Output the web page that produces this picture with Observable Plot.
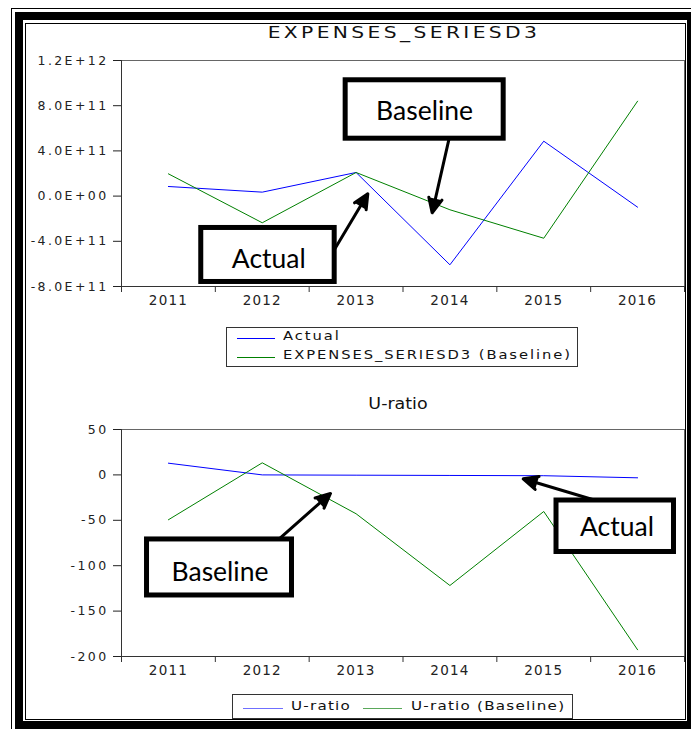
<!DOCTYPE html>
<html>
<head>
<meta charset="utf-8">
<script src="https://cdn.jsdelivr.net/npm/d3@7"></script>
<script src="https://cdn.jsdelivr.net/npm/@observablehq/plot@0.6"></script>
<style>
  html, body { margin: 0; padding: 0; background: #fff; }
  body { width: 691px; height: 729px; overflow: hidden; position: relative; font-family: "DejaVu Sans", sans-serif; color: #111; }
  .abs { position: absolute; box-sizing: border-box; }
  .title { white-space: nowrap; transform-origin: 50% 50%; }
  .legend-text { white-space: nowrap; transform-origin: 0 50%; }
  .legend-line { height: 1px; }
  svg [aria-label="y-axis tick label"] text { letter-spacing: 2.4px; }
  svg [aria-label="x-axis tick label"] text { letter-spacing: 1.2px; }
</style>
</head>
<body>
<script>
// ---------- data ----------
const years = [2011, 2012, 2013, 2014, 2015, 2016];
const yearLabels = ["2011", "2012", "2013", "2014", "2015", "2016"];
const yearBounds = [2010.5, 2011.5, 2012.5, 2013.5, 2014.5, 2015.5, 2016.5];

const expensesActual   = [0.85e11, 0.35e11, 2.09e11, -6.08e11, 4.86e11, -0.98e11];
const expensesBaseline = [1.97e11, -2.36e11, 2.09e11, -1.21e11, -3.73e11, 8.40e11];

const uratioActual   = [12.9, 0.0, -0.3, -0.6, -0.9, -3.2];
const uratioBaseline = [-49.4, 13.3, -42.8, -121.8, -40.3, -192.6];

const topYTicks = [-8e11, -4e11, 0, 4e11, 8e11, 1.2e12];
const topYTickLabels = ["-8.0E+11", "-4.0E+11", "0.0E+00", "4.0E+11", "8.0E+11", "1.2E+12"];
const bottomYTicks = [-200, -150, -100, -50, 0, 50];
const bottomYTickLabels = ["-200", "-150", "-100", "-50", "0", "50"];

const topTitle = "EXPENSES_SERIESD3";
const bottomTitle = "U-ratio";
const topLegend = ["Actual", "EXPENSES_SERIESD3 (Baseline)"];
const bottomLegend = ["U-ratio", "U-ratio (Baseline)"];

// annotation callouts (in data units)
const topBoxes = [
  {label: "Baseline", x1: 2012.889, x2: 2014.573, y1: 5.08e11, y2: 10.25e11, tx: 2013.73, ty: 7.48e11},
  {label: "Actual",   x1: 2011.35,  x2: 2012.772, y1: -7.6e11, y2: -2.82e11, tx: 2012.07, ty: -5.62e11}
];
const topArrows = [
  {x1: 2013.996, y1: 5.27e11, x2: 2013.811, y2: -1.48e11},
  {x1: 2012.76,  y1: -4.85e11, x2: 2013.125, y2: 0.2e11}
];
const bottomBoxes = [
  {label: "Baseline", x1: 2010.772, x2: 2012.317, y1: -132.8, y2: -71.1, tx: 2011.55, ty: -107.3},
  {label: "Actual",   x1: 2015.136, x2: 2016.388, y1: -84.9,  y2: -28.2, tx: 2015.78, ty: -57.7}
];
const bottomArrows = [
  {x1: 2012.163, y1: -72,   x2: 2012.727, y2: -20.5},
  {x1: 2015.52,  y1: -27.1, x2: 2014.781, y2: -4.3}
];

const BLUE = "#0000ff";
const GREEN = "#008000";

// ---------- helpers ----------
function el(tag, cls, style, text) {
  const e = document.createElement(tag);
  if (cls) e.className = cls;
  Object.assign(e.style, style);
  if (text != null) e.textContent = text;
  document.body.appendChild(e);
  return e;
}

function makeChart({actual, baseline, yDomain, yTicks, yTickLabels, boxes, arrows, top, height, marginTop, marginBottom}) {
  const chart = Plot.plot({
    width: 691,
    height,
    marginLeft: 121,
    marginRight: 7,
    marginTop,
    marginBottom,
    style: {fontFamily: "DejaVu Sans", fontSize: "13px", background: "transparent", overflow: "visible", color: "#111"},
    x: {domain: [yearBounds[0], yearBounds[yearBounds.length - 1]], label: null},
    y: {domain: yDomain, label: null},
    marks: [
      Plot.frame({stroke: "#666", strokeWidth: 1}),
      Plot.ruleX([yearBounds[0]], {stroke: "#333", strokeWidth: 1}),
      Plot.ruleY([yDomain[0]], {stroke: "#333", strokeWidth: 1}),
      Plot.axisY({ticks: yTicks, tickFormat: d => yTickLabels[yTicks.indexOf(d)], tickSize: 8, tickPadding: 5, fontSize: 12.5, color: "#222", label: null}),
      Plot.axisX({ticks: yearBounds, tickSize: 6, tickFormat: () => "", color: "#333", label: null}),
      Plot.axisX({ticks: years, tickSize: 0, tickPadding: 9, tickFormat: d => yearLabels[years.indexOf(d)], fontSize: 13.5, color: "#222", label: null}),
      Plot.lineY(actual, {x: years, stroke: BLUE, strokeWidth: 1}),
      Plot.lineY(baseline, {x: years, stroke: GREEN, strokeWidth: 1}),
      Plot.arrow(arrows, {x1: "x1", y1: "y1", x2: "x2", y2: "y2", stroke: "black", fill: "black", strokeWidth: 3, headAngle: 50, headLength: 8}),
      Plot.rect(boxes, {x1: "x1", x2: "x2", y1: "y1", y2: "y2", fill: "white", stroke: "black", strokeWidth: 5}),
      Plot.text(boxes, {x: "tx", y: "ty", text: "label", fontFamily: "Lato", fontSize: 26.5, fill: "black"})
    ]
  });
  chart.style.position = "absolute";
  chart.style.left = "0px";
  chart.style.top = top + "px";
  document.body.appendChild(chart);
}

// ---------- top chart ----------
makeChart({
  actual: expensesActual, baseline: expensesBaseline,
  yDomain: [topYTicks[0], topYTicks[topYTicks.length - 1]],
  yTicks: topYTicks, yTickLabels: topYTickLabels,
  boxes: topBoxes, arrows: topArrows,
  top: 40, height: 280, marginTop: 20, marginBottom: 34
});

// ---------- bottom chart ----------
makeChart({
  actual: uratioActual, baseline: uratioBaseline,
  yDomain: [bottomYTicks[0], bottomYTicks[bottomYTicks.length - 1]],
  yTicks: bottomYTicks, yTickLabels: bottomYTickLabels,
  boxes: bottomBoxes, arrows: bottomArrows,
  top: 409, height: 277, marginTop: 20, marginBottom: 30
});

// ---------- titles ----------
el("div", "abs title", {left: "403.5px", top: "26.3px", fontSize: "15px", lineHeight: "15px", letterSpacing: "2.5px",
  transform: "translateX(-50%) scaleX(1.35)"}, topTitle);
el("div", "abs title", {left: "397.5px", top: "396.3px", fontSize: "16px", lineHeight: "16px",
  transform: "translateX(-50%) scaleX(1.09)"}, bottomTitle);

// ---------- legends ----------
el("div", "abs", {left: "226px", top: "327px", width: "352px", height: "40px", border: "1px solid #333", background: "#fff"});
el("div", "abs legend-line", {left: "237px", top: "338px", width: "38px", background: BLUE});
el("div", "abs legend-line", {left: "237px", top: "357px", width: "38px", background: GREEN});
el("div", "abs legend-text", {left: "283px", top: "331px", fontSize: "11.5px", lineHeight: "11.5px", letterSpacing: "1.5px", transform: "scaleX(1.28)"}, topLegend[0]);
el("div", "abs legend-text", {left: "283px", top: "350px", fontSize: "11.5px", lineHeight: "11.5px", letterSpacing: "1.5px", transform: "scaleX(1.28)"}, topLegend[1]);

el("div", "abs", {left: "232px", top: "694px", width: "341px", height: "25px", border: "1px solid #333", background: "#fff"});
el("div", "abs legend-line", {left: "243px", top: "708px", width: "40px", background: "#6f6fff"});
el("div", "abs legend-line", {left: "363px", top: "708px", width: "39px", background: "#5aa85a"});
el("div", "abs legend-text", {left: "291px", top: "700.3px", fontSize: "12.3px", lineHeight: "12.3px", letterSpacing: "1px", transform: "scaleX(1.23)"}, bottomLegend[0]);
el("div", "abs legend-text", {left: "411px", top: "700.3px", fontSize: "12.3px", lineHeight: "12.3px", letterSpacing: "1px", transform: "scaleX(1.23)"}, bottomLegend[1]);

// ---------- page frame ----------
el("div", "abs", {left: "11px", top: "8px", width: "800px", height: "800px", border: "1px solid #000"});
el("div", "abs", {left: "15px", top: "12px", width: "680px", height: "717px", border: "8px solid #000"});
el("div", "abs", {left: "25px", top: "23px", width: "661px", height: "697px", border: "1px solid #000"});
</script>
</body>
</html>
